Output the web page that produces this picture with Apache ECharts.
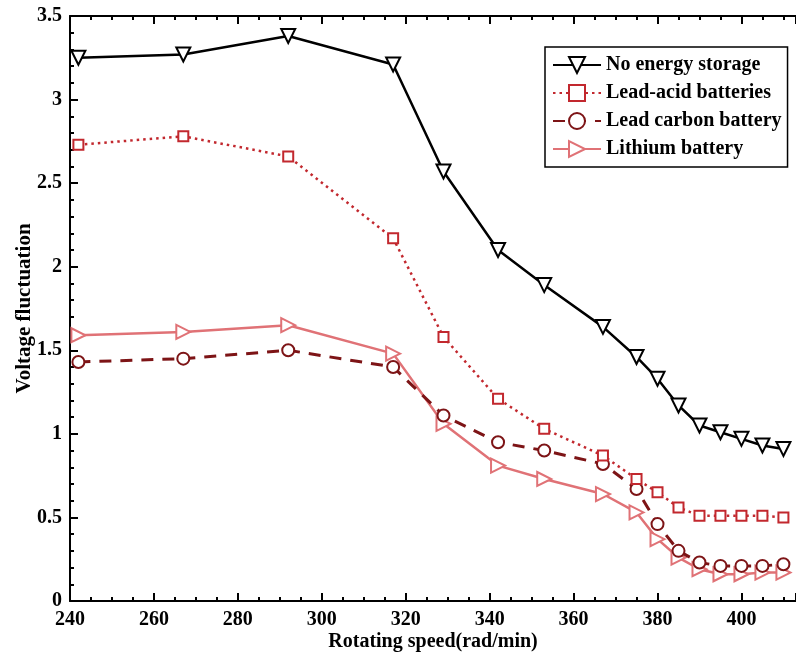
<!DOCTYPE html>
<html>
<head>
<meta charset="utf-8">
<script src="https://cdn.jsdelivr.net/npm/echarts@6/dist/echarts.min.js"></script>
<style>html,body{margin:0;padding:0;background:#fff}#c{width:796px;height:656px}</style>
</head>
<body>
<div id="c"></div>
<script>
const speed = [242, 267, 292, 317, 329, 342, 353, 367, 375, 380, 385, 390, 395, 400, 405, 410];
const noStorage = [3.25, 3.27, 3.38, 3.21, 2.57, 2.10, 1.89, 1.64, 1.46, 1.33, 1.17, 1.05, 1.01, 0.97, 0.93, 0.91];
const leadAcid = [2.73, 2.78, 2.66, 2.17, 1.58, 1.21, 1.03, 0.87, 0.73, 0.65, 0.56, 0.51, 0.51, 0.51, 0.51, 0.50];
const leadCarbon = [1.43, 1.45, 1.50, 1.40, 1.11, 0.95, 0.90, 0.82, 0.67, 0.46, 0.30, 0.23, 0.21, 0.21, 0.21, 0.22];
const lithium = [1.59, 1.61, 1.65, 1.48, 1.06, 0.81, 0.73, 0.64, 0.53, 0.37, 0.26, 0.19, 0.16, 0.16, 0.17, 0.17];
const seriesNames = ['No energy storage', 'Lead-acid batteries', 'Lead carbon battery', 'Lithium battery'];
const xTitle = 'Rotating speed(rad/min)';
const yTitle = 'Voltage fluctuation';

const pairs = arr => speed.map((x, i) => [x, arr[i]]);
const font = 'Liberation Serif';
const chart = echarts.init(document.getElementById('c'), null, {renderer: 'canvas'});
const axisLine = {show: true, lineStyle: {color: '#000', width: 2}};
chart.setOption({
  animation: false,
  backgroundColor: '#fff',
  grid: {left: 70, top: 16, right: 0, bottom: 55, outerBoundsMode: 'none', containLabel: false},
  legend: {
    orient: 'vertical', left: 545, top: 47,
    padding: [8, 6, 8, 7], itemGap: 8, itemWidth: 48, itemHeight: 20,
    borderColor: '#000', borderWidth: 1.5, backgroundColor: '#fff',
    textStyle: {fontFamily: font, fontWeight: 'bold', fontSize: 20, color: '#000'},
    data: seriesNames
  },
  xAxis: [{
    type: 'value', min: 240, max: 413, interval: 20,
    name: xTitle, nameLocation: 'middle', nameGap: 31, nameMoveOverlap: false,
    nameTextStyle: {fontFamily: font, fontWeight: 'bold', fontSize: 20, color: '#000'},
    axisLine: axisLine,
    axisTick: {inside: true, length: 8, lineStyle: {color: '#000', width: 2}},
    minorTick: {show: true, splitNumber: 4, length: 4, lineStyle: {color: '#000', width: 2}},
    axisLabel: {fontFamily: font, fontWeight: 'bold', fontSize: 20, color: '#000', margin: 9,
      formatter: v => (v % 20 === 0 ? String(v) : '')},
    splitLine: {show: false}
  }, {
    type: 'value', min: 240, max: 413, interval: 20, position: 'top',
    axisLine: axisLine,
    axisTick: {inside: true, length: 8, lineStyle: {color: '#000', width: 2}},
    minorTick: {show: true, splitNumber: 4, length: 4, lineStyle: {color: '#000', width: 2}},
    axisLabel: {show: false}, splitLine: {show: false}
  }],
  yAxis: [{
    type: 'value', min: 0, max: 3.5, interval: 0.5,
    name: yTitle, nameLocation: 'middle', nameGap: 35, nameMoveOverlap: false,
    nameTextStyle: {fontFamily: font, fontWeight: 'bold', fontSize: 21, color: '#000'},
    axisLine: axisLine,
    axisTick: {inside: true, length: 8, lineStyle: {color: '#000', width: 2}},
    minorTick: {show: true, splitNumber: 5, length: 4, lineStyle: {color: '#000', width: 2}},
    axisLabel: {fontFamily: font, fontWeight: 'bold', fontSize: 20, color: '#000', margin: 8},
    splitLine: {show: false}
  }],
  series: [{
    name: seriesNames[0], type: 'line', data: pairs(noStorage),
    symbol: 'emptyTriangle', symbolSize: 14, symbolRotate: 180,
    lineStyle: {color: '#000', width: 2.5, type: 'solid'},
    itemStyle: {color: '#000', borderColor: '#000', borderWidth: 2}, z: 5
  }, {
    name: seriesNames[1], type: 'line', data: pairs(leadAcid),
    symbol: 'emptyRect', symbolSize: 10,
    lineStyle: {color: '#c2282e', width: 2.5, type: [2.5, 4]},
    itemStyle: {color: '#c2282e', borderColor: '#c2282e', borderWidth: 2}, z: 4
  }, {
    name: seriesNames[2], type: 'line', data: pairs(leadCarbon),
    symbol: 'emptyCircle', symbolSize: 12,
    lineStyle: {color: '#7d1416', width: 3, type: [12, 9]},
    itemStyle: {color: '#7d1416', borderColor: '#7d1416', borderWidth: 2.2}, z: 3
  }, {
    name: seriesNames[3], type: 'line', data: pairs(lithium),
    symbol: 'emptyTriangle', symbolSize: 14, symbolRotate: -90,
    lineStyle: {color: '#e07276', width: 2.5, type: 'solid'},
    itemStyle: {color: '#e07276', borderColor: '#e07276', borderWidth: 2}, z: 2
  }]
});
</script>
</body>
</html>
